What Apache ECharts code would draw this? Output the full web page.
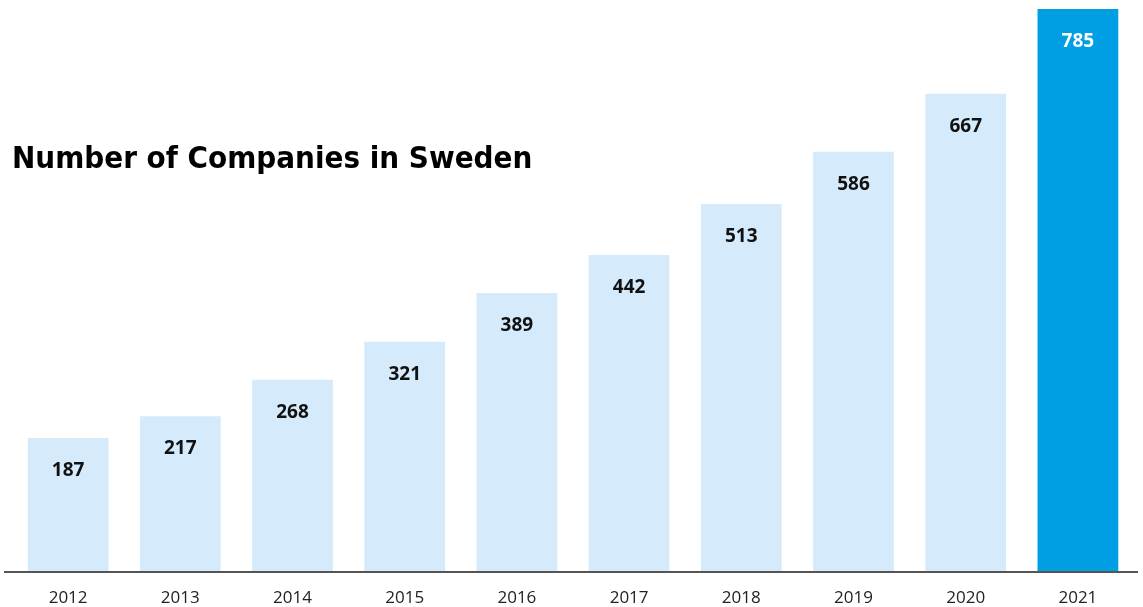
<!DOCTYPE html>
<html>
<head>
<meta charset="utf-8">
<script src="https://cdn.jsdelivr.net/npm/echarts@6/dist/echarts.min.js"></script>
<style>
  html, body { margin: 0; padding: 0; background: #fff; }
  #chart { width: 1143px; height: 607px; }
</style>
</head>
<body>
<div id="chart"></div>
<script>
var years = ["2012", "2013", "2014", "2015", "2016", "2017", "2018", "2019", "2020", "2021"];
var companies = [187, 217, 268, 321, 389, 442, 513, 586, 667, 785];
var lightBlue = "#d5ebfb";
var strongBlue = "#009fe3";

var chart = echarts.init(document.getElementById("chart"));

var barData = companies.map(function (v, i) {
    var last = i === companies.length - 1;
    return {
        value: v,
        itemStyle: { color: last ? strongBlue : lightBlue },
        label: { color: last ? "#fff" : "#111" }
    };
});

var option = {
    animation: false,
    title: {
        text: "Number of Companies in Sweden",
        left: 7,
        top: 139,
        textStyle: {
            fontFamily: "'DejaVu Sans Condensed', 'Liberation Sans Narrow', sans-serif",
            fontWeight: "bold",
            fontSize: 31,
            color: "#000"
        }
    },
    grid: {
        left: 12,
        right: 9,
        top: 9,
        bottom: 35
    },
    xAxis: {
        type: "category",
        data: years,
        axisLine: { show: false },
        axisTick: { show: false },
        axisLabel: {
            margin: 18,
            fontFamily: "Open Sans",
            fontSize: 17,
            color: "#222"
        }
    },
    yAxis: {
        type: "value",
        min: 0,
        max: 785,
        show: false,
        splitLine: { show: false }
    },
    series: [
        {
            type: "bar",
            data: barData,
            barCategoryGap: "28%",
            label: {
                show: true,
                position: "insideTop",
                distance: 23,
                fontFamily: "Open Sans",
                fontWeight: "bold",
                fontSize: 19
            }
        }
    ],
    graphic: [
        {
            type: "line",
            shape: { x1: 4, y1: 572, x2: 1138, y2: 572 },
            style: { stroke: "#555", lineWidth: 2 },
            z: 10
        }
    ]
};
chart.setOption(option);
</script>
</body>
</html>
